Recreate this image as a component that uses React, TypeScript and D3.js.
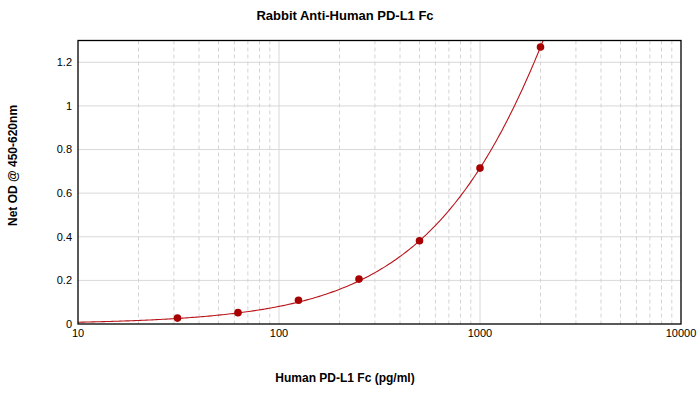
import * as d3 from 'd3';

// standard points
const concentrations = [31.25, 62.5, 125, 250, 500, 1000, 2000];
const odValues = [0.027, 0.052, 0.109, 0.206, 0.382, 0.715, 1.27];

// fitted 4PL parameters (estimated)
const FIT_A = 0;
const FIT_B = 1;
const FIT_C = 6929;
const FIT_D = 5.67;

const xTicks = [10, 100, 1000, 10000];
const yTicks = [0, 0.2, 0.4, 0.6, 0.8, 1, 1.2];

const WIDTH = 700;
const HEIGHT = 411;
const PLOT = { left: 78, right: 681, top: 40.5, bottom: 324 };
const FONT = '"Liberation Sans", Arial, sans-serif';

const fit = (x: number) => FIT_D + (FIT_A - FIT_D) / (1 + Math.pow(x / FIT_C, FIT_B));

export default function App() {
  const x = d3.scaleLog().domain([10, 10000]).range([PLOT.left, PLOT.right]);
  const y = d3.scaleLinear().domain([0, 1.3]).range([PLOT.bottom, PLOT.top]);

  const minorX: number[] = [];
  for (const dec of [10, 100, 1000]) {
    for (let k = 2; k <= 9; k++) minorX.push(dec * k);
  }

  const samples = d3.range(0, 301).map((i) => 10 * Math.pow(10, (3 * i) / 300));
  const curvePath =
    d3
      .line<number>()
      .x((d) => x(d))
      .y((d) => y(fit(d)))(samples.filter((d) => fit(d) <= 1.35)) ?? '';

  return (
    <svg
      width={WIDTH}
      height={HEIGHT}
      style={{ position: 'fixed', left: 0, top: 0, background: '#fff' }}
      fontFamily={FONT}
    >
      <defs>
        <clipPath id="plot-clip">
          <rect x={PLOT.left} y={PLOT.top} width={PLOT.right - PLOT.left} height={PLOT.bottom - PLOT.top} />
        </clipPath>
      </defs>

      {/* grid */}
      {yTicks.slice(1).map((t) => (
        <line key={t} x1={PLOT.left} x2={PLOT.right} y1={y(t)} y2={y(t)} stroke="#d8d8d8" strokeWidth={1} />
      ))}
      {minorX.map((t) => (
        <line
          key={t}
          x1={x(t)}
          x2={x(t)}
          y1={PLOT.top}
          y2={PLOT.bottom}
          stroke="#d4d4d4"
          strokeWidth={1}
          strokeDasharray="4 3"
        />
      ))}
      {xTicks.slice(1, -1).map((t) => (
        <line key={t} x1={x(t)} x2={x(t)} y1={PLOT.top} y2={PLOT.bottom} stroke="#d8d8d8" strokeWidth={1} />
      ))}

      {/* fitted curve */}
      <path d={curvePath} fill="none" stroke="#b8141a" strokeWidth={1.1} clipPath="url(#plot-clip)" />

      {/* points */}
      {concentrations.map((c, i) => (
        <circle key={c} cx={x(c)} cy={y(odValues[i])} r={3.8} fill="#a80000" />
      ))}

      {/* frame */}
      <rect
        x={PLOT.left}
        y={PLOT.top}
        width={PLOT.right - PLOT.left}
        height={PLOT.bottom - PLOT.top}
        fill="none"
        stroke="#000"
        strokeWidth={1.3}
      />

      {/* y ticks */}
      {yTicks.map((t) => (
        <text key={t} x={72} y={y(t)} dy="0.35em" textAnchor="end" fontSize={11} fill="#000">
          {t}
        </text>
      ))}

      {/* x ticks */}
      {xTicks.map((t) => (
        <text key={t} x={x(t)} y={337} textAnchor="middle" fontSize={11} fill="#000">
          {t}
        </text>
      ))}

      <text x={345} y={20} textAnchor="middle" fontSize={13} fontWeight={700}>
        Rabbit Anti-Human PD-L1 Fc
      </text>
      <text x={345} y={382} textAnchor="middle" fontSize={12} fontWeight={700}>
        Human PD-L1 Fc (pg/ml)
      </text>
      <text
        transform="translate(17,165.5) rotate(-90)"
        textAnchor="middle"
        fontSize={12}
        fontWeight={700}
      >
        Net OD @ 450-620nm
      </text>
    </svg>
  );
}
